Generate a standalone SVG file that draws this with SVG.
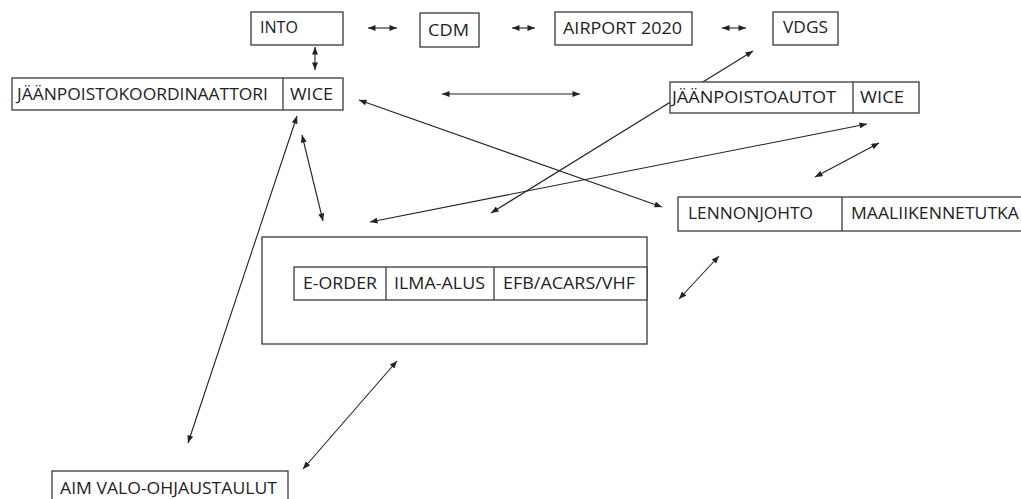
<svg xmlns="http://www.w3.org/2000/svg" width="1021" height="499" viewBox="0 0 1021 499">
  <defs>
    <style>
      .box { fill: #ffffff; stroke: #3a3a3a; stroke-width: 1.3; }
      .div { stroke: #3a3a3a; stroke-width: 1.3; }
      .lbl { font-family: "Open Sans", Lato, "Liberation Sans", sans-serif; font-size: 15.5px; fill: #222222; }
      .link { stroke: #222222; stroke-width: 1.1; fill: none; marker-start: url(#head); marker-end: url(#head); }
    </style>
    <marker id="head" viewBox="0 0 10 8" refX="10" refY="4" markerWidth="8" markerHeight="6" markerUnits="userSpaceOnUse" orient="auto-start-reverse">
      <path d="M0,0 L10,4 L0,8 z" fill="#222222"/>
    </marker>
  </defs>
  <rect width="1021" height="499" fill="#ffffff"/>

  <g id="connectors">
    <line class="link" x1="368" y1="28" x2="397" y2="28"/>
    <line class="link" x1="512" y1="28" x2="535" y2="28"/>
    <line class="link" x1="722" y1="28" x2="746" y2="28"/>
    <line class="link" x1="315" y1="47" x2="315" y2="70"/>
    <line class="link" x1="442" y1="94" x2="580" y2="94"/>
    <line class="link" x1="297" y1="116" x2="188" y2="443"/>
    <line class="link" x1="302" y1="135" x2="323" y2="221"/>
    <line class="link" x1="359" y1="100" x2="662" y2="207"/>
    <line class="link" x1="753" y1="51" x2="491" y2="213"/>
    <line class="link" x1="867" y1="124" x2="370" y2="222"/>
    <line class="link" x1="879" y1="143" x2="815" y2="177"/>
    <line class="link" x1="719" y1="256" x2="679" y2="299"/>
    <line class="link" x1="397" y1="361" x2="303" y2="469"/>
  </g>

  <g id="into">
    <rect class="box" x="251" y="12" width="92" height="33"/>
    <text class="lbl" x="260" y="33" textLength="38" lengthAdjust="spacingAndGlyphs">INTO</text>
  </g>
  <g id="cdm">
    <rect class="box" x="420" y="13" width="59" height="34"/>
    <text class="lbl" x="428" y="36" textLength="41" lengthAdjust="spacingAndGlyphs">CDM</text>
  </g>
  <g id="airport-2020">
    <rect class="box" x="555" y="12" width="137" height="33"/>
    <text class="lbl" x="563" y="34" textLength="119" lengthAdjust="spacingAndGlyphs">AIRPORT 2020</text>
  </g>
  <g id="vdgs">
    <rect class="box" x="773" y="12" width="65" height="33"/>
    <text class="lbl" x="783" y="33" textLength="45" lengthAdjust="spacingAndGlyphs">VDGS</text>
  </g>

  <g id="jaanpoistokoordinaattori">
    <rect class="box" x="12" y="78" width="331" height="32"/>
    <line class="div" x1="283" y1="78" x2="283" y2="110"/>
    <text class="lbl" x="17" y="100" textLength="251" lengthAdjust="spacingAndGlyphs">JÄÄNPOISTOKOORDINAATTORI</text>
    <text class="lbl" x="290" y="100" textLength="43" lengthAdjust="spacingAndGlyphs">WICE</text>
  </g>

  <g id="jaanpoistoautot">
    <rect class="box" x="670" y="82" width="249" height="31"/>
    <line class="div" x1="853" y1="82" x2="853" y2="113"/>
    <text class="lbl" x="672" y="103" textLength="164" lengthAdjust="spacingAndGlyphs">JÄÄNPOISTOAUTOT</text>
    <text class="lbl" x="860" y="103" textLength="44" lengthAdjust="spacingAndGlyphs">WICE</text>
  </g>

  <g id="lennonjohto">
    <rect class="box" x="678" y="197" width="360" height="34"/>
    <line class="div" x1="842" y1="197" x2="842" y2="231"/>
    <text class="lbl" x="688" y="219" textLength="125" lengthAdjust="spacingAndGlyphs">LENNONJOHTO</text>
    <text class="lbl" x="851" y="219" textLength="168" lengthAdjust="spacingAndGlyphs">MAALIIKENNETUTKA</text>
  </g>

  <g id="ilma-alus">
    <rect class="box" x="262" y="237" width="385" height="107"/>
    <rect class="box" x="294" y="267" width="353" height="33"/>
    <line class="div" x1="386" y1="267" x2="386" y2="300"/>
    <line class="div" x1="494" y1="267" x2="494" y2="300"/>
    <text class="lbl" x="303" y="289" textLength="74" lengthAdjust="spacingAndGlyphs">E-ORDER</text>
    <text class="lbl" x="394" y="289" textLength="91" lengthAdjust="spacingAndGlyphs">ILMA-ALUS</text>
    <text class="lbl" x="503" y="289" textLength="132" lengthAdjust="spacingAndGlyphs">EFB/ACARS/VHF</text>
  </g>

  <g id="aim-valo-ohjaustaulut">
    <rect class="box" x="52" y="471" width="236" height="40"/>
    <text class="lbl" x="60" y="494" textLength="217" lengthAdjust="spacingAndGlyphs">AIM VALO-OHJAUSTAULUT</text>
  </g>
</svg>
